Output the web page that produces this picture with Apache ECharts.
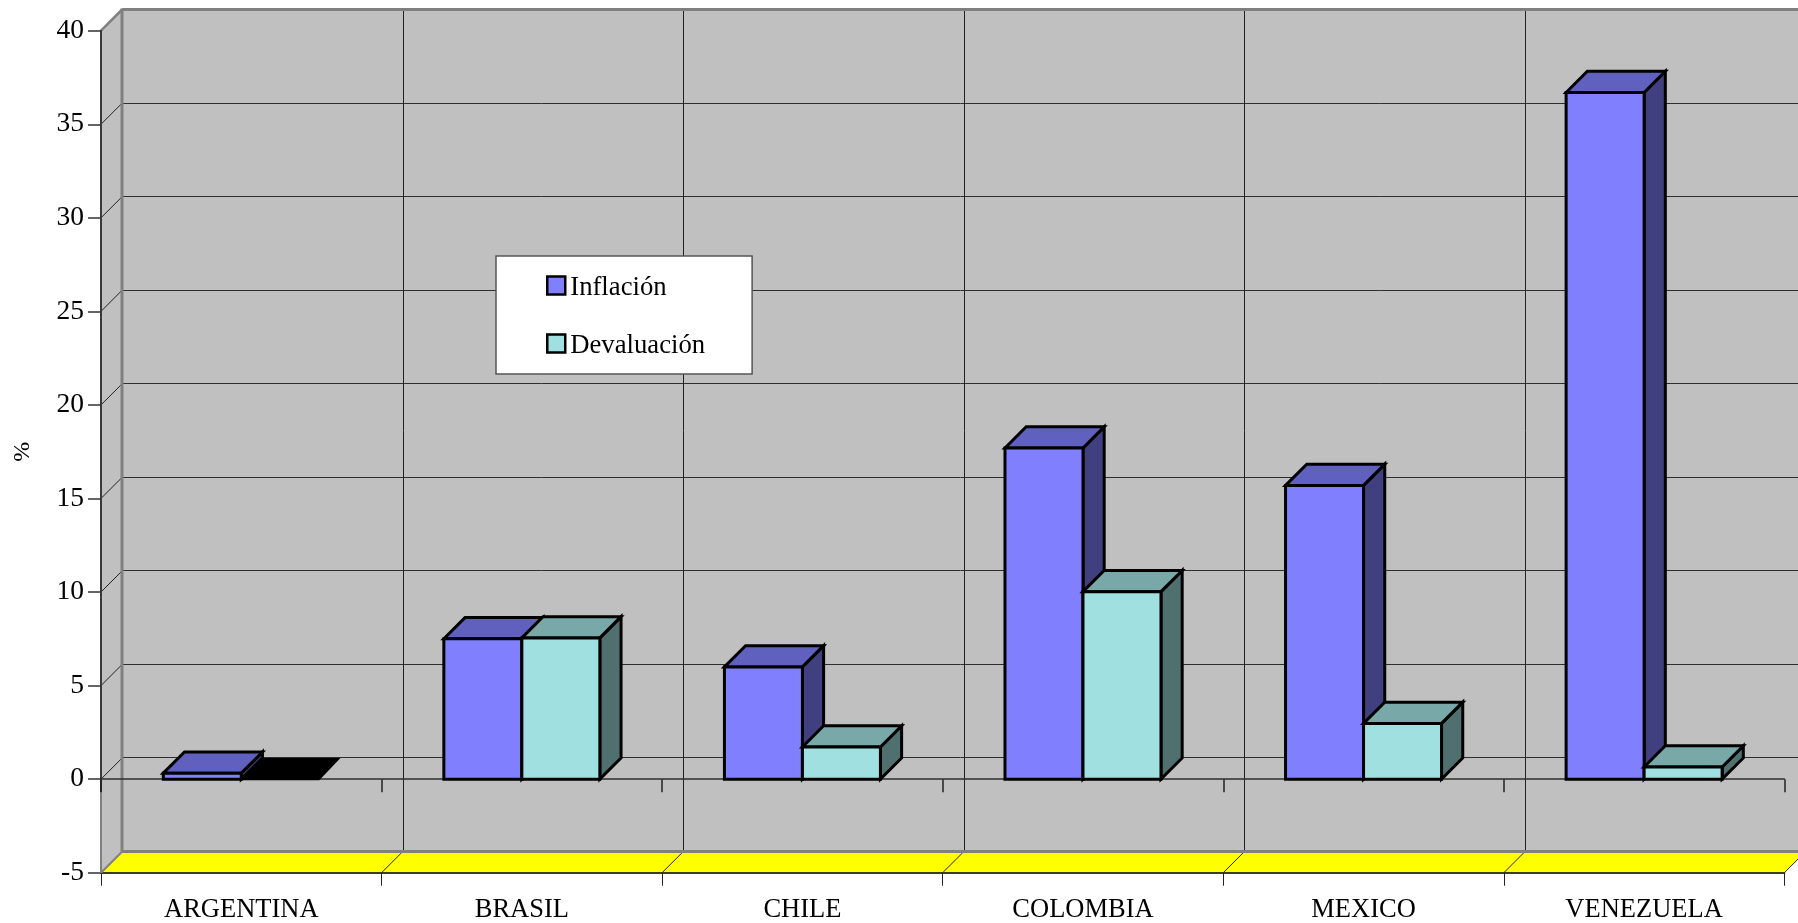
<!DOCTYPE html>
<html>
<head>
<meta charset="utf-8">
<style>html,body{margin:0;padding:0;background:#fff;overflow:hidden}#c{width:1798px;height:923px}</style>
<script src="https://cdn.jsdelivr.net/npm/echarts@6/dist/echarts.min.js"></script>
</head>
<body>
<div id="c"></div>
<script>
const categories = ['ARGENTINA', 'BRASIL', 'CHILE', 'COLOMBIA', 'MEXICO', 'VENEZUELA'];
const inflacion = [0.32, 7.5, 6.0, 17.7, 15.7, 36.7];
const devaluacion = [0, 7.55, 1.72, 10.02, 2.98, 0.65];
const yTicks = [-5, 0, 5, 10, 15, 20, 25, 30, 35, 40];

const FONT = '"Liberation Serif", "Times New Roman", serif';
const DEPTH = 21.2;
const BAR_RATIO = 0.278;
const crisp = v => Math.round(v - 0.5) + 0.5;

function line(x1, y1, x2, y2, stroke, lineWidth) {
  return { type: 'line', shape: { x1, y1, x2, y2 }, style: { stroke, lineWidth: lineWidth || 1, fill: null } };
}
function poly(points, fill, stroke, lineWidth) {
  return { type: 'polygon', shape: { points }, style: { fill, stroke: stroke || null, lineWidth: lineWidth || 0, lineJoin: 'miter' } };
}

function renderFrame(params, api) {
  const cs = params.coordSys;
  const L = cs.x, R = cs.x + cs.width, T = cs.y, B = cs.y + cs.height;
  const bw = cs.width / categories.length;
  const d = DEPTH, kids = [];
  const bL = L + d, bB = B - d, bT = T - d;
  kids.push(poly([[bL, bT], [R + d, bT], [R + d, bB], [bL, bB]], '#c0c0c0'));
  kids.push(poly([[L, T], [bL, bT], [bL, bB], [L, B]], '#c0c0c0'));
  kids.push(poly([[L, B], [bL, bB], [R + d, bB], [R, B]], '#ffff00'));
  yTicks.forEach(t => {
    if (t === -5 || t === 40) return;
    const y = api.coord([0, t])[1];
    kids.push(line(bL, crisp(y - d), R + d, crisp(y - d), '#2e2e2e'));
    kids.push(line(L, y, bL, y - d, '#222'));
  });
  categories.forEach((c, i) => {
    const x = L + bw * (i + 1);
    kids.push(line(Math.round(x + d) + 0.5, bT, Math.round(x + d) + 0.5, bB, '#222'));
    kids.push(line(x, B, x + d, bB, '#222'));
  });
  kids.push(line(bL - 0.2, bT - 1, bL - 0.2, bB + 1, '#808080', 3));
  kids.push(line(bL, bT, R + d + 2, bT, '#808080', 3));
  kids.push(line(bL, bB, R + d + 2, bB, '#808080', 3));
  kids.push(line(L, T, bL, bT, '#808080', 2.5));
  return { type: 'group', children: kids };
}

function renderEdge(params, api) {
  const a = api.coord([0, 0]), b = api.coord([0, -5]);
  const x = params.coordSys.x;
  return { type: 'group', children: [line(x, a[1] + 13, x, b[1], '#808080', 2), line(x, b[1], x + DEPTH, b[1] - DEPTH, '#808080', 2)] };
}

function makeBar(side, front, top, right) {
  return function (params, api) {
    const cat = api.value(0), val = api.value(1);
    const bw = api.size([1, 0])[0], w = bw * BAR_RATIO;
    const cx = api.coord([cat, 0])[0];
    const x0 = side < 0 ? cx - w : cx, x1 = x0 + w;
    const yB = api.coord([cat, 0])[1], yT = api.coord([cat, val])[1];
    const d = DEPTH;
    if (val === 0) {
      return poly([[x0, yB + 1], [x0 + d, yB - d], [x1 + d, yB - d], [x1, yB + 1]], '#000');
    }
    const stroke = '#000', lw = 3;
    return {
      type: 'group', children: [
        poly([[x1, yT], [x1 + d, yT - d], [x1 + d, yB - d], [x1, yB]], right, stroke, lw),
        poly([[x0, yT], [x0 + d, yT - d], [x1 + d, yT - d], [x1, yT]], top, stroke, lw),
        poly([[x0, yT], [x1, yT], [x1, yB], [x0, yB]], front, stroke, lw)
      ]
    };
  };
}

const chart = echarts.init(document.getElementById('c'), null, { renderer: 'canvas' });
chart.setOption({
  animation: false,
  backgroundColor: '#fff',
  textStyle: { fontFamily: FONT },
  grid: { left: 101, top: 30.7, width: 1683.4, height: 842, containLabel: false, outerBoundsMode: 'none' },
  legend: {
    left: 496, top: 256, orient: 'vertical', z: 10,
    data: ['Inflación', 'Devaluación'],
    icon: 'rect', itemWidth: 18, itemHeight: 18, itemGap: 31,
    padding: [18.5, 47, 14.5, 50],
    backgroundColor: '#fff', borderColor: '#555', borderWidth: 1.5,
    itemStyle: { borderColor: '#000', borderWidth: 2.5 },
    formatter: '{t|{name}}',
    textStyle: {
      rich: { t: { fontFamily: FONT, fontSize: 26.7, color: '#000', padding: [5, 0, 0, 0] } }
    }
  },
  xAxis: [
    {
      type: 'category', data: categories, z: 1,
      axisLine: { onZero: true, lineStyle: { color: '#2e2e2e', width: 1.5 } },
      axisTick: { show: true, length: 13, lineStyle: { color: '#222', width: 1.5 } },
      axisLabel: { show: false }, splitLine: { show: false }
    },
    {
      type: 'category', data: categories, position: 'bottom', z: 1,
      axisLine: { onZero: false, lineStyle: { color: '#3c3c20', width: 2 } },
      axisTick: { show: true, length: 13, lineStyle: { color: '#222', width: 1 } },
      axisLabel: { margin: 24, interval: 0, fontFamily: FONT, fontSize: 26.5, color: '#000' },
      splitLine: { show: false }
    }
  ],
  yAxis: {
    type: 'value', min: -5, max: 40, interval: 5, z: 1,
    name: '%', nameLocation: 'middle', nameRotate: 90, nameGap: 66,
    nameTextStyle: { fontFamily: FONT, fontSize: 24, color: '#000' },
    axisLine: { show: true, onZero: false, lineStyle: { color: '#3a3a3a', width: 2 } },
    axisTick: { show: true, length: 13, lineStyle: { color: '#333', width: 1.5 } },
    axisLabel: { margin: 17, fontFamily: FONT, fontSize: 27.5, color: '#000' },
    splitLine: { show: false }
  },
  series: [
    { name: 'frame', type: 'custom', z: 0, silent: true, clip: false, xAxisIndex: 0, data: [[0, 0]], renderItem: renderFrame, encode: { x: 0, y: 1 } },
    { name: 'edge', type: 'custom', z: 1.5, silent: true, clip: false, xAxisIndex: 0, data: [[0, 0]], renderItem: renderEdge, encode: { x: 0, y: 1 } },
    {
      name: 'Inflación', type: 'custom', z: 2, clip: false, xAxisIndex: 0,
      itemStyle: { color: '#8080ff' },
      data: inflacion.map((v, i) => [i, v]), encode: { x: 0, y: 1 },
      renderItem: makeBar(-1, '#8080ff', '#6060bf', '#404080')
    },
    {
      name: 'Devaluación', type: 'custom', z: 3, clip: false, xAxisIndex: 0,
      itemStyle: { color: '#a0e0e0' },
      data: devaluacion.map((v, i) => [i, v]), encode: { x: 0, y: 1 },
      renderItem: makeBar(1, '#a0e0e0', '#78a8a8', '#507070')
    }
  ]
});
</script>
</body>
</html>
